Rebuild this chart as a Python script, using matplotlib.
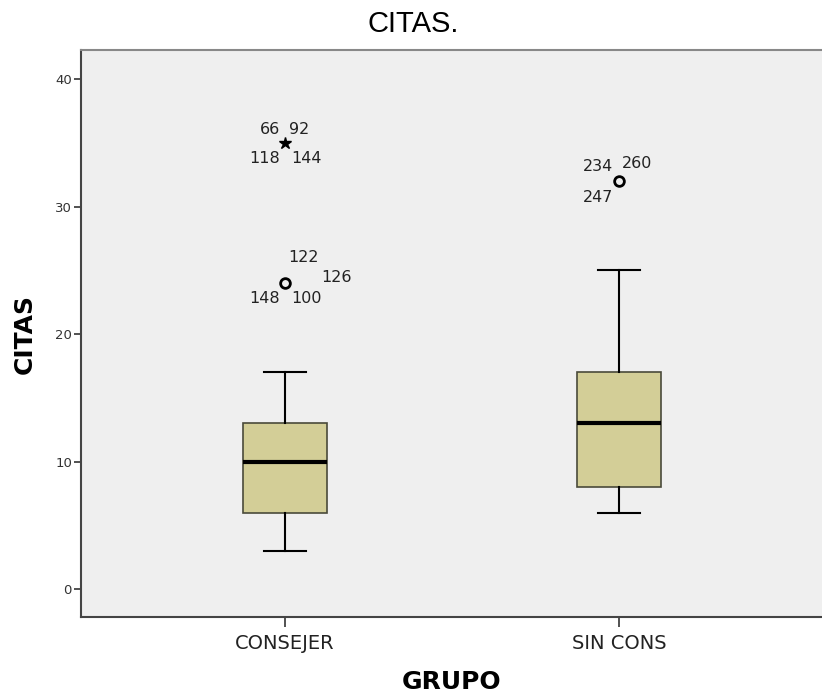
import matplotlib
matplotlib.use("Agg")
import matplotlib.pyplot as plt

# ── datos ──
groups = ["CONSEJER", "SIN CONS"]
whis_lo = [3, 6]
q1 = [6, 8]
medians = [10, 13]
q3 = [13, 17]
whis_hi = [17, 25]

# valores atípicos (círculo) y extremos (estrella)
outlier_group = [0, 1]
outlier_value = [24, 32]
outlier_ids = [["122", "126", "148", "100"], ["234", "260", "247"]]

extreme_group = [0]
extreme_value = [35]
extreme_ids = [["66", "92", "118", "144"]]

y_ticks = [0, 10, 20, 30, 40]

# desplazamientos de las etiquetas (píxeles) respecto al marcador
LABEL_OFFSETS = {
    "122": (18, 26), "126": (51, 6), "148": (-20, -15), "100": (21, -15),
    "234": (-21, 15), "260": (18, 18), "247": (-21, -16),
    "66": (-15, 14), "92": (14, 14), "118": (-20, -15), "144": (21, -15),
}

BOX_COLOR = "#D3CE97"
BG_COLOR = "#EFEFEF"

fig = plt.figure(figsize=(8.22, 7), dpi=100)
ax = fig.add_axes([81 / 822, 1 - 617 / 700, 742 / 822, 567 / 700])
ax.set_facecolor(BG_COLOR)

stats = []
for i, name in enumerate(groups):
    stats.append({"label": name, "whislo": whis_lo[i], "q1": q1[i],
                  "med": medians[i], "q3": q3[i], "whishi": whis_hi[i],
                  "fliers": []})

ax.bxp(stats, positions=range(len(groups)), widths=0.25, patch_artist=True,
       showfliers=False,
       boxprops=dict(facecolor=BOX_COLOR, edgecolor="#4a4a3a", linewidth=1.2),
       medianprops=dict(color="black", linewidth=3),
       whiskerprops=dict(color="black", linewidth=1.5),
       capprops=dict(color="black", linewidth=1.5),
       capwidths=0.125)

# atípicos
for g, v, ids in zip(outlier_group, outlier_value, outlier_ids):
    ax.plot(g, v, marker="o", markersize=7, markerfacecolor="none",
            markeredgecolor="black", markeredgewidth=2, linestyle="none")
    for lab in ids:
        ax.annotate(lab, (g, v), xytext=LABEL_OFFSETS[lab],
                    textcoords="offset pixels", ha="center", va="center",
                    fontsize=11.5, color="#222222")

# extremos
for g, v, ids in zip(extreme_group, extreme_value, extreme_ids):
    ax.plot(g, v, marker="*", markersize=9, color="black", linestyle="none")
    for lab in ids:
        ax.annotate(lab, (g, v), xytext=LABEL_OFFSETS[lab],
                    textcoords="offset pixels", ha="center", va="center",
                    fontsize=11.5, color="#222222")

ax.set_xlim(-0.611, 1.611)
ax.set_ylim(-2.2, 42.3)
ax.set_yticks(y_ticks)
ax.set_yticklabels([str(t) for t in y_ticks], fontsize=9.5, color="#333333")
ax.set_xticks(range(len(groups)))
ax.set_xticklabels(groups, fontsize=14, color="#222222")
ax.tick_params(axis="y", length=5, width=1.2, color="#333333", pad=1.5)
ax.tick_params(axis="x", length=7, width=1.2, color="#333333", pad=5)

ax.spines["right"].set_visible(False)
ax.spines["top"].set_color("#888888")
ax.spines["top"].set_linewidth(1.5)
for s in ["left", "bottom"]:
    ax.spines[s].set_color("#444444")
    ax.spines[s].set_linewidth(1.5)

ax.set_xlabel("GRUPO", fontsize=18, fontweight="bold")
ax.xaxis.set_label_coords(0.5, -(682 - 617) / 567, transform=ax.transAxes)
ax.set_ylabel("CITAS", fontsize=18, fontweight="bold")
ax.yaxis.set_label_coords(-(81 - 25) / 742, 0.5, transform=ax.transAxes)
ax.xaxis.label.set_va("center")
ax.yaxis.label.set_va("center")

fig.text(413 / 822, 1 - 24 / 700, "CITAS.", ha="center", va="center",
         fontsize=21, family="Liberation Sans")

fig.savefig("out.png", dpi=100)
